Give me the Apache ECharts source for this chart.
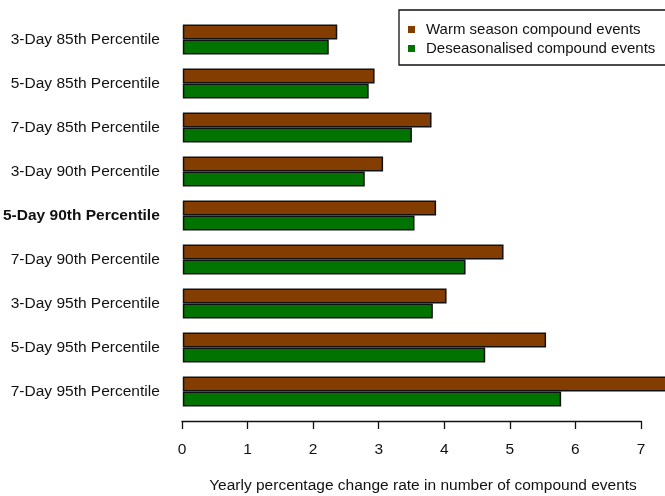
<!DOCTYPE html>
<html>
<head>
    <meta charset="utf-8">
    <title>Compound events</title>
    <script type="text/javascript" src="https://cdn.jsdelivr.net/npm/echarts@6/dist/echarts.min.js"></script>
    <style>
        html, body { margin: 0; padding: 0; background: #fff; }
    </style>
</head>
<body>
<div id="main" style="width: 665px;height:496px;"></div>
<script type="text/javascript">
    // categories, top to bottom
    var categories = [
        '3-Day 85th Percentile', '5-Day 85th Percentile', '7-Day 85th Percentile',
        '3-Day 90th Percentile', '5-Day 90th Percentile', '7-Day 90th Percentile',
        '3-Day 95th Percentile', '5-Day 95th Percentile', '7-Day 95th Percentile'
    ];
    // yearly % change
    var warmSeason = [2.36, 2.93, 3.80, 3.06, 3.87, 4.90, 4.03, 5.55, 7.50];
    var deseasonalised = [2.23, 2.84, 3.50, 2.78, 3.54, 4.32, 3.82, 4.62, 5.78];
    var xTicks = [0, 1, 2, 3, 4, 5, 6, 7];
    var boldCategory = '5-Day 90th Percentile';

    var myChart = echarts.init(document.getElementById('main'));

    var option = {
        animation: false,
        textStyle: { fontFamily: 'Liberation Sans, Arial, sans-serif', color: '#111' },
        legend: {
            orient: 'vertical',
            left: 399,
            top: 10,
            padding: [12, 30, 9, 9],
            itemGap: 4,
            itemWidth: 7,
            itemHeight: 7,
            icon: 'rect',
            borderColor: '#111',
            borderWidth: 1.3,
            itemStyle: { borderWidth: 0 },
            textStyle: { fontSize: 15, color: '#111', padding: [0, 0, 0, 6] },
            data: ['Warm season compound events', 'Deseasonalised compound events']
        },
        // bars live in grid 0; the detached R-style axis lives in grid 1 below it
        grid: [{
            left: 182,
            right: 24,
            top: 17.5,
            height: 396
        }, {
            left: 182,
            right: 24,
            top: 420,
            height: 1
        }],
        xAxis: [{
            gridIndex: 0,
            type: 'value',
            min: xTicks[0],
            max: xTicks[xTicks.length - 1],
            show: false
        }, {
            gridIndex: 1,
            type: 'value',
            min: xTicks[0],
            max: xTicks[xTicks.length - 1],
            interval: 1,
            splitLine: { show: false },
            axisLine: { show: true, onZero: false, lineStyle: { color: '#111', width: 1.3 } },
            axisTick: { show: true, length: 8, lineStyle: { color: '#111', width: 1.3 } },
            axisLabel: { fontSize: 15.5, color: '#111', margin: 21 },
            name: 'Yearly percentage change rate in number of compound events',
            nameLocation: 'middle',
            nameGap: 57,
            nameTextStyle: { fontSize: 15.5, color: '#111', padding: [0, 0, 0, 23] }
        }],
        yAxis: [{
            gridIndex: 0,
            type: 'category',
            inverse: true,
            data: categories,
            axisLine: { show: false },
            axisTick: { show: false },
            axisLabel: {
                fontSize: 15.5,
                color: '#111',
                margin: 23,
                formatter: function (v) {
                    return v === boldCategory ? '{b|' + v + '}' : v;
                },
                rich: {
                    b: { fontSize: 15.5, fontWeight: 'bold', color: '#111' }
                }
            }
        }, {
            gridIndex: 1,
            type: 'value',
            show: false
        }],
        series: [{
            name: 'Warm season compound events',
            type: 'bar',
            data: warmSeason,
            barWidth: 15,
            barGap: '0%',
            clip: false,
            itemStyle: { color: '#843d00', borderColor: '#111', borderWidth: 1.5 }
        }, {
            name: 'Deseasonalised compound events',
            type: 'bar',
            data: deseasonalised,
            barWidth: 15,
            barGap: '0%',
            clip: false,
            itemStyle: { color: '#007300', borderColor: '#111', borderWidth: 1.5 }
        }]
    };

    myChart.setOption(option);
</script>
</body>
</html>
